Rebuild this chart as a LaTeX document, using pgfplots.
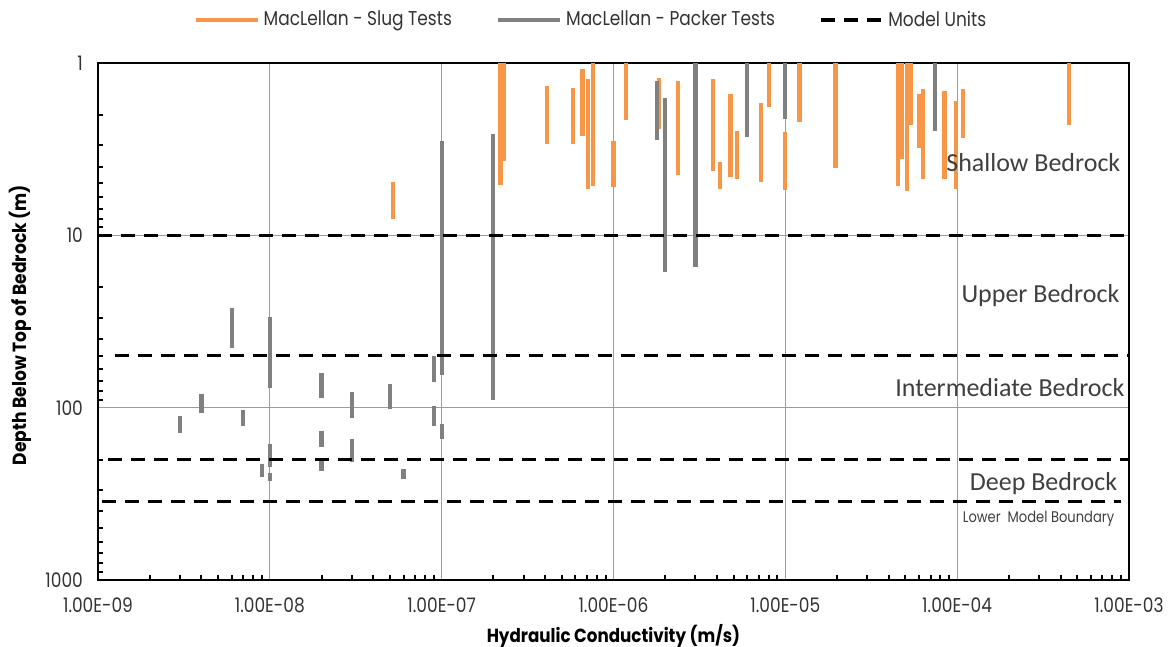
\documentclass[border=0pt]{standalone}
\usepackage{pgfplots}
\pgfplotsset{compat=1.18}
\usepackage{fontspec}
\setmainfont{Carlito}
\newfontfamily\gothic[FakeStretch=0.85]{Poppins}
\newfontfamily\gothicx[FakeStretch=0.88]{Poppins}
\newfontfamily\gothicy[FakeStretch=0.9]{Poppins}
\definecolor{SlugOrange}{HTML}{F79646}
\definecolor{PackerGray}{HTML}{808080}
\definecolor{GridTan}{HTML}{A39B92}
\definecolor{ZoneText}{HTML}{3F3F3F}

\begin{document}
\begin{tikzpicture}
\begin{axis}[
  at={(0,0)}, anchor=south west,
  scale only axis,
  width=515.5pt, height=258.5pt,
  xmode=log, ymode=log, y dir=reverse,
  xmin=1e-9, xmax=1e-3, ymin=1, ymax=1000,
  xtick={1e-9,1e-8,1e-7,1e-6,1e-5,1e-4,1e-3},
  xticklabels={1.00E-09,1.00E-08,1.00E-07,1.00E-06,1.00E-05,1.00E-04,1.00E-03},
  ytick={1,10,100,1000},
  yticklabels={1,10,100,1000},
  minor xtick={2e-9,3e-9,4e-9,5e-9,6e-9,7e-9,8e-9,9e-9,
    2e-8,3e-8,4e-8,5e-8,6e-8,7e-8,8e-8,9e-8,
    2e-7,3e-7,4e-7,5e-7,6e-7,7e-7,8e-7,9e-7,
    2e-6,3e-6,4e-6,5e-6,6e-6,7e-6,8e-6,9e-6,
    2e-5,3e-5,4e-5,5e-5,6e-5,7e-5,8e-5,9e-5,
    2e-4,3e-4,4e-4,5e-4,6e-4,7e-4,8e-4,9e-4},
  minor ytick={2,3,4,5,6,7,8,9,20,30,40,50,60,70,80,90,200,300,400,500,600,700,800,900},
  tick pos=left,
  tick align=inside,
  major tick length=0pt,
  minor tick length=2.5pt,
  minor tick style={black, line width=1pt},
  grid=major,
  major grid style={GridTan, line width=0.6pt},
  axis line style={black, line width=1.1pt},
  tick label style={font=\gothic\fontsize{10}{12}\selectfont, text=black!80},
  xticklabel style={anchor=center, yshift=-12.5pt},
  yticklabel style={anchor=east, xshift=-4pt},
  xlabel={Hydraulic Conductivity (m/s)},
  ylabel={Depth Below Top of Bedrock (m)},
  xlabel style={font=\gothicx\bfseries\fontsize{9.5}{11}\selectfont,
    at={(axis description cs:0.5,-0.108)}, anchor=center},
  ylabel style={font=\gothicy\bfseries\fontsize{9.5}{11}\selectfont,
    at={(axis description cs:-0.0757,0.493)}, anchor=center},
  legend columns=3,
  legend style={draw=none, fill=none, at={(0.479,1.083)}, anchor=center,
    font=\gothic\fontsize{10}{12}\selectfont, text=black!80,
    /tikz/every even column/.append style={column sep=20pt}},
  legend image code/.code={\draw[#1] (0pt,0pt) -- (31pt,0pt);},
  clip=true,
]
% slug tests: K, depth (two rows per interval)
\addplot[SlugOrange, line width=2.1pt, empty line=jump] table {
5.2e-8 4.9
5.2e-8 8.0

2.2e-7 1
2.2e-7 5.1

2.3e-7 1
2.3e-7 3.7

4.1e-7 1.36
4.1e-7 2.97

5.8e-7 1.39
5.8e-7 2.97

6.6e-7 1.08
6.6e-7 2.64

7.1e-7 1.24
7.1e-7 5.38

7.6e-7 1
7.6e-7 5.14

1.0e-6 2.83
1.0e-6 5.26

1.18e-6 1
1.18e-6 2.15

1.85e-6 1.22
1.85e-6 2.4

2.38e-6 1.27
2.38e-6 4.48

3.79e-6 1.24
3.79e-6 4.22

4.17e-6 3.73
4.17e-6 5.38

4.8e-6 1.52
4.8e-6 4.58

5.25e-6 2.47
5.25e-6 4.69

7.2e-6 1.71
7.2e-6 4.91

8.0e-6 1
8.0e-6 1.79

1.0e-5 2.53
1.0e-5 5.46

1.21e-5 1
1.21e-5 2.20

1.96e-5 1
1.96e-5 4.09

4.55e-5 1
4.55e-5 5.14

4.75e-5 1
4.75e-5 3.6

5.08e-5 1
5.08e-5 5.52

5.36e-5 1
5.36e-5 2.30

6.0e-5 1.52
6.0e-5 3.10

6.3e-5 1.42
6.3e-5 4.69

8.45e-5 1.46
8.45e-5 4.69

9.9e-5 1.67
9.9e-5 5.38

1.08e-4 1.42
1.08e-4 2.71

4.5e-4 1
4.5e-4 2.30
};
\addlegendentry{MacLellan - Slug Tests}
% packer tests
\addplot[PackerGray, line width=2.1pt, empty line=jump] table {
3e-9 112
3e-9 141

4e-9 83
4e-9 107

6e-9 26.4
6e-9 45

7e-9 103
7e-9 127

1e-8 29.7
1e-8 77

1e-8 162
1e-8 220

1e-8 238
1e-8 265

9e-9 211
9e-9 253

2e-8 63
2e-8 88

2e-8 137
2e-8 170

2e-8 204
2e-8 234

3e-8 81.5
3e-8 115

3e-8 151
3e-8 206

5e-8 73
5e-8 102

6e-8 228
6e-8 259

9e-8 50
9e-8 71

9e-8 98
9e-8 128

1e-7 2.83
1e-7 65

1e-7 124
1e-7 153

2e-7 2.58
2e-7 90

1.8e-6 1.27
1.8e-6 2.81

2e-6 1.6
2e-6 16.4

3e-6 1
3e-6 15.3

6e-6 1
6e-6 2.68

1e-5 1
1e-5 2.1

7.4e-5 1
7.4e-5 2.47
};
\addlegendentry{MacLellan - Packer Tests}
% model unit boundaries
\addplot[black, line width=1.6pt, dash pattern=on 7pt off 4.5pt, empty line=jump] table {
1e-9 10
1e-3 10

1.25e-9 50
1e-3 50

1.15e-9 200
1e-3 200

1.05e-9 350
9e-4 350
};
\addlegendentry{Model Units}

\node[anchor=east, inner sep=0pt, font=\fontsize{13}{15}\selectfont, text=ZoneText] at (rel axis cs:0.992,0.808) {Shallow Bedrock};
\node[anchor=east, inner sep=0pt, font=\fontsize{13}{15}\selectfont, text=ZoneText] at (rel axis cs:0.991,0.551) {Upper Bedrock};
\node[anchor=east, inner sep=0pt, font=\fontsize{13}{15}\selectfont, text=ZoneText] at (rel axis cs:0.996,0.373) {Intermediate Bedrock};
\node[anchor=east, inner sep=0pt, font=\fontsize{13}{15}\selectfont, text=ZoneText] at (rel axis cs:0.989,0.186) {Deep Bedrock};
\node[anchor=east, inner sep=0pt, font=\gothic\fontsize{7.7}{9}\selectfont, text=ZoneText] at (rel axis cs:0.986,0.118) {Lower\ \ Model Boundary};
\end{axis}
\pgfresetboundingbox
\useasboundingbox (-49pt,-33.5pt) rectangle (535.5pt,290pt);
\end{tikzpicture}
\end{document}
